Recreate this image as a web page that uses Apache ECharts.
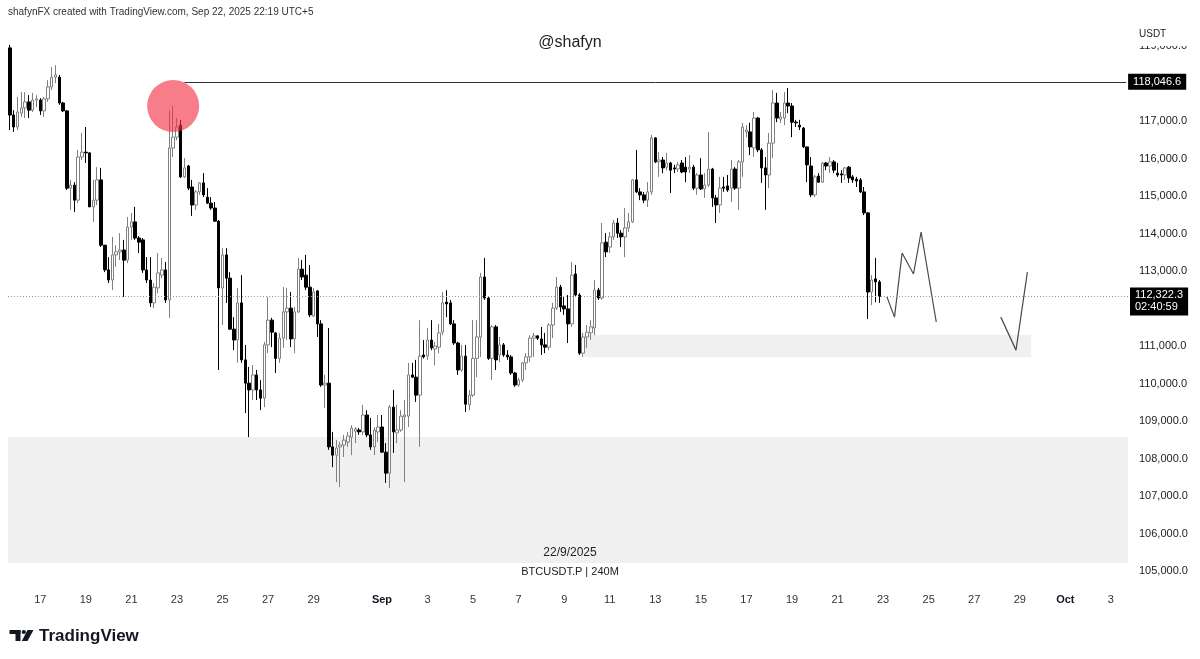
<!DOCTYPE html>
<html>
<head>
<meta charset="utf-8">
<title>BTCUSDT.P | 240M</title>
<script src="https://cdn.jsdelivr.net/npm/echarts@6/dist/echarts.min.js"></script>
<style>
  html, body { margin: 0; padding: 0; background: #fff; }
  #chart { width: 1200px; height: 659px; }
</style>
</head>
<body>
<div id="chart"></div>
<script>
// 4h bars, local time UTC+5, first bar opens Aug 15 17:00
const opens = [
  118950, 117160, 116840, 117210, 117350, 117510, 117290, 117560, 117560, 117270,
  117590, 117910, 118170, 118170, 117480, 117270, 115210, 115290, 114890, 116040,
  116170, 116150, 114710, 114890, 115430, 113690, 113030, 112760, 113430, 113510,
  113560, 113290, 114170, 114310, 113880, 113830, 113030, 112760, 112150, 112550,
  112890, 113030, 112230, 116280, 116570, 116890, 115510, 115800, 115240, 114760,
  115110, 115350, 114970, 114810, 114680, 114330, 112550, 113430, 112810, 111450,
  111160, 112150, 110630, 110010, 109830, 110230, 109830, 109610, 111030, 111690,
  111350, 110670, 111210, 111910, 112010, 111190, 111910, 113050, 112890, 112570,
  111800, 112470, 111590, 109960, 110010, 108310, 108090, 108310, 108360, 108440,
  108570, 108730, 108760, 108710, 109160, 108630, 108310, 108710, 108840, 108170,
  107610, 109370, 108680, 108760, 109110, 109130, 110230, 110170, 109690, 110760,
  110730, 111160, 110920, 110970, 111370, 112170, 112150, 111590, 111080, 110360,
  110730, 109430, 109690, 110670, 111240, 112840, 112280, 110670, 111510, 110760,
  111030, 110760, 110710, 110280, 109960, 110090, 110550, 110710, 111210, 111270,
  111190, 111030, 110970, 111560, 112010, 112570, 112070, 111990, 111590, 112920,
  112360, 110810, 111240, 111350, 111480, 112490, 112280, 113770, 113640, 113910,
  114280, 114010, 113910, 114150, 114310, 115430, 115110, 115030, 114890, 115110,
  116550, 115910, 115960, 115770, 115880, 115750, 115720, 115880, 115770, 115720,
  115770, 115210, 115560, 115190, 115290, 115720, 114950, 114760, 115240, 115270,
  115210, 115720, 115210, 115910, 116710, 116710, 116280, 117080, 116230, 115750,
  115560, 116410, 117480, 117050, 117080, 117480, 117400, 116970, 116890, 116810,
  116310, 115800, 115030, 115530, 115370, 115880, 115800, 115910, 115610, 115590,
  115560, 115770, 115510, 115450, 115430, 115110, 114550, 112440, 112790, 112710
];
const closes = [
  117160, 116840, 117240, 117350, 117510, 117290, 117560, 117590, 117270, 117590,
  117910, 118170, 118230, 117480, 117270, 115210, 115290, 114890, 116040, 116170,
  116150, 114710, 114890, 115430, 113690, 113030, 112760, 113430, 113510, 113560,
  113290, 114170, 114310, 113880, 113770, 113030, 112760, 112150, 112570, 112950,
  113030, 112230, 116280, 116570, 116840, 115510, 115750, 115210, 114760, 115110,
  115350, 115030, 114810, 114680, 114330, 112550, 113430, 112810, 111450, 111160,
  112150, 110630, 110010, 109830, 110230, 109830, 109610, 111030, 111690, 111370,
  110670, 111210, 111910, 112010, 111190, 111910, 113050, 112840, 112570, 111830,
  112440, 111590, 109960, 110010, 108310, 108090, 108280, 108360, 108490, 108600,
  108810, 108790, 108710, 109160, 108630, 108310, 108760, 108840, 108170, 107610,
  109370, 108710, 108760, 109130, 109160, 110230, 110170, 109690, 110730, 110710,
  111160, 110950, 111000, 111350, 112150, 112120, 111590, 111080, 110360, 110730,
  109450, 109690, 110670, 111240, 112840, 112280, 110670, 111510, 110630, 111030,
  110760, 110710, 110280, 109960, 110090, 110550, 110710, 111210, 111270, 111210,
  111030, 110970, 111560, 112010, 112570, 112040, 111990, 111590, 112890, 112360,
  110810, 111240, 111370, 111510, 112490, 112280, 113750, 113510, 113910, 114280,
  114010, 113910, 114150, 114310, 115430, 115110, 115030, 114890, 115110, 116550,
  115910, 115960, 115750, 115880, 115690, 115720, 115830, 115640, 115640, 115770,
  115210, 115560, 115190, 115290, 115720, 114950, 114760, 115210, 115210, 115160,
  115720, 115210, 115910, 116840, 116760, 116310, 117080, 116230, 115750, 115560,
  116410, 117480, 117080, 117110, 117480, 117400, 116970, 116950, 116840, 116310,
  115830, 115030, 115510, 115370, 115880, 115800, 115910, 115690, 115560, 115560,
  115750, 115480, 115430, 115400, 115110, 114550, 112440, 112760, 112710, 112322.3
];
const lows = [
  116760, 116710, 116760, 117110, 117080, 117080, 117240, 117370, 117160, 117110,
  117510, 117830, 118010, 117430, 117240, 115160, 114630, 114570, 114810, 115960,
  115880, 114710, 114310, 114760, 113640, 112970, 112680, 112490, 113110, 113290,
  112310, 113210, 113830, 113830, 113480, 112950, 112680, 112040, 112010, 112410,
  112810, 112150, 111750, 116040, 116490, 115480, 115480, 115160, 114470, 114630,
  115030, 114970, 114790, 114630, 114310, 110360, 111560, 112150, 111430, 110890,
  110550, 110550, 109210, 108570, 109560, 109560, 109290, 109370, 110810, 110970,
  110280, 110550, 110950, 111160, 110970, 110810, 111880, 112760, 112490, 111770,
  111770, 111240, 109910, 109350, 108230, 107770, 107370, 107240, 108040, 108310,
  108090, 108410, 108630, 108630, 108570, 108230, 108090, 108440, 108150, 107350,
  107210, 108150, 108410, 108710, 107370, 108840, 110150, 109510, 108310, 110670,
  110630, 110890, 110490, 110810, 111290, 111770, 111560, 111030, 110230, 110310,
  109240, 109290, 109640, 110170, 110710, 112230, 110630, 110090, 110360, 110570,
  110710, 110630, 110230, 109910, 109910, 110040, 110360, 110570, 110710, 111160,
  110760, 110810, 110890, 111210, 111960, 111910, 111830, 111080, 111510, 112310,
  110760, 110710, 110950, 111160, 111290, 112230, 112230, 113370, 113480, 113830,
  113880, 113640, 113370, 114040, 114280, 115080, 114890, 114810, 114710, 115030,
  115880, 115510, 115610, 115690, 115080, 115610, 115640, 115610, 115370, 115610,
  115160, 115030, 115160, 114950, 115240, 114710, 114280, 114550, 115110, 115110,
  114840, 115160, 114630, 115510, 116570, 116090, 116040, 116170, 115350, 114630,
  115210, 116010, 116970, 116950, 116890, 117210, 116570, 116840, 116760, 116280,
  115370, 114970, 114970, 115350, 115350, 115690, 115610, 115610, 115510, 115350,
  115430, 115350, 115350, 115240, 115080, 114490, 111720, 112090, 112170, 112150
];
const highs = [
  119030, 117290, 117640, 117770, 117770, 117690, 117750, 117690, 117610, 117640,
  118090, 118440, 118490, 118230, 117510, 117290, 115430, 115370, 116230, 116680,
  116840, 116170, 115430, 115770, 115750, 113690, 113370, 113910, 113690, 114010,
  113830, 114440, 114550, 114710, 113930, 113880, 113370, 113370, 112680, 113480,
  113350, 113240, 117270, 117400, 117080, 117030, 116010, 115830, 115430, 115160,
  115370, 115610, 115210, 114970, 114840, 114360, 113610, 113610, 112970, 111770,
  112550, 112890, 111030, 110440, 110490, 110360, 110090, 111110, 112310, 111750,
  111370, 111350, 112570, 112550, 112440, 112040, 113350, 113290, 113430, 113160,
  112550, 112490, 111690, 110230, 111480, 108710, 108490, 108440, 108630, 108710,
  108890, 108840, 108810, 109430, 109290, 109080, 108840, 109160, 109160, 108410,
  109430, 109830, 109430, 109290, 109560, 110550, 110550, 110630, 111690, 111160,
  111480, 111690, 111110, 111590, 112440, 112490, 112230, 111690, 111110, 111030,
  111030, 109830, 111690, 111690, 112950, 113350, 112310, 111560, 111560, 111240,
  111080, 110890, 110760, 110310, 110150, 110570, 110810, 111290, 111350, 111290,
  111510, 111350, 111610, 112150, 112840, 112630, 112310, 112360, 113240, 113160,
  112410, 111350, 111560, 111690, 112760, 112550, 114280, 114010, 114040, 114360,
  114410, 114090, 114680, 114550, 115450, 116230, 115210, 115110, 115370, 116630,
  116570, 116170, 116040, 116150, 115910, 115830, 115910, 115960, 116040, 116090,
  115830, 115610, 116010, 115610, 116710, 115750, 115030, 115510, 115510, 115560,
  115960, 115770, 115960, 116950, 116890, 116950, 117240, 117110, 116280, 116040,
  116680, 117830, 117750, 117240, 117770, 117880, 117480, 117030, 117030, 116840,
  116310, 116040, 115560, 115610, 115910, 115910, 116040, 115960, 115880, 115690,
  115770, 115800, 115560, 115510, 115480, 115240, 114570, 112890, 113350, 112760
];

const slotCount = 295;          // bars from Aug 15 17:00 to Oct 3 17:00
const firstBar = Date.UTC(2025, 7, 15, 17);
const monthNames = ['Jan', 'Feb', 'Mar', 'Apr', 'May', 'Jun', 'Jul', 'Aug', 'Sep', 'Oct', 'Nov', 'Dec'];

const highLevel = 118046.6;
const highLevelFrom = 46;
const lastPrice = 112322.3;
const countdown = '02:40:59';
const circleAt = [43, 117400];
const coveredTicks = [118000, 112000];   // hidden under the price boxes

const lowZone = [108573, 105213];
const retestZone = [111300, 110700];
const retestFrom = 151;
const retestTo = 269;

const pathAx = [231, 233, 235, 238, 240, 244];
const pathAy = [112310, 111770, 113480, 112920, 114040, 111640];
const pathBx = [261, 265, 268];
const pathBy = [111770, 110890, 112970];

const categories = [];
for (let k = 0; k < slotCount; k++) categories.push(String(firstBar + k * 4 * 3600 * 1000));

const candleData = opens.map((o, i) => [o, closes[i], lows[i], highs[i]]);

const font = 'Liberation Sans, Arial, sans-serif';
const fmtPrice = v => v.toLocaleString('en-US', { minimumFractionDigits: 1, maximumFractionDigits: 1 });

const chart = echarts.init(document.getElementById('chart'));

const option = {
  animation: false,
  backgroundColor: '#ffffff',
  textStyle: { fontFamily: font },
  grid: { left: 8, right: 72, top: 8.5, bottom: 50.5 },
  xAxis: {
    type: 'category',
    data: categories,
    offset: -20.5,
    axisLine: { show: false },
    axisTick: { show: false },
    splitLine: { show: false },
    axisLabel: {
      margin: 6,
      color: '#333',
      fontSize: 11,
      fontFamily: font,
      interval: (idx, value) => {
        const d = new Date(+value);
        const day = d.getUTCDate();
        return d.getUTCHours() === 1 && day % 2 === 1 && day !== 31;
      },
      formatter: value => {
        const d = new Date(+value);
        const day = d.getUTCDate();
        return day === 1 ? '{m|' + monthNames[d.getUTCMonth()] + '}' : String(day);
      },
      rich: { m: { fontWeight: 'bold', color: '#131722', fontSize: 11, fontFamily: font } }
    }
  },
  yAxis: {
    type: 'value',
    position: 'right',
    min: 104000,
    max: 120000,
    interval: 1000,
    scale: true,
    axisLine: { show: false },
    axisTick: { show: false },
    splitLine: { show: false },
    axisLabel: {
      margin: 11,
      color: '#222',
      fontSize: 11,
      fontFamily: font,
      formatter: v => (v < 105000 || v > 119000 || coveredTicks.includes(v)) ? '' : fmtPrice(v)
    }
  },
  series: [
    {
      type: 'candlestick',
      data: candleData,
      barWidth: 3,
      itemStyle: {
        color: '#ffffff',
        color0: '#000000',
        borderColor: '#808080',
        borderColor0: '#000000',
        borderWidth: 1
      },
      markArea: {
        silent: true,
        itemStyle: { color: '#f0f0f0' },
        data: [
          [{ yAxis: lowZone[0] }, { yAxis: lowZone[1] }],
          [{ xAxis: retestFrom, yAxis: retestZone[0] }, { xAxis: retestTo, yAxis: retestZone[1] }]
        ]
      },
      markLine: {
        silent: true,
        symbol: ['none', 'none'],
        data: [
          {
            yAxis: lastPrice,
            lineStyle: { color: '#9a9a9a', type: [1, 2], width: 1 },
            label: {
              show: true,
              position: 'end',
              distance: 2,
              offset: [0, 5],
              formatter: fmtPrice(lastPrice) + '\n' + countdown,
              color: '#fff',
              backgroundColor: '#000',
              fontSize: 11,
              lineHeight: 12,
              fontFamily: font,
              padding: [2, 5, 2, 5]
            }
          },
          [
            {
              coord: [highLevelFrom, highLevel],
              lineStyle: { color: '#333', type: 'solid', width: 1 },
              label: {
                show: true,
                position: 'end',
                distance: 2,
                formatter: fmtPrice(highLevel),
                color: '#fff',
                backgroundColor: '#000',
                fontSize: 11,
                fontFamily: font,
                padding: [3, 5, 2, 5]
              }
            },
            { coord: [slotCount - 1, highLevel] }
          ]
        ]
      },
      markPoint: {
        silent: true,
        data: [{
          coord: circleAt,
          symbol: 'circle',
          symbolSize: 52,
          itemStyle: { color: 'rgba(240, 45, 65, 0.62)' },
          label: { show: false }
        }]
      }
    },
    {
      type: 'line',
      data: pathAx.map((x, k) => [x, pathAy[k]]),
      showSymbol: false,
      silent: true,
      lineStyle: { color: '#4a4a4a', width: 1.2 }
    },
    {
      type: 'line',
      data: pathBx.map((x, k) => [x, pathBy[k]]),
      showSymbol: false,
      silent: true,
      lineStyle: { color: '#4a4a4a', width: 1.2 }
    }
  ],
  graphic: [
    { type: 'text', x: 8, y: 12, z: 100,
      style: { text: 'shafynFX created with TradingView.com, Sep 22, 2025 22:19 UTC+5', fill: '#333', font: '10px ' + font, textVerticalAlign: 'middle' } },
    { type: 'text', x: 570, y: 43, z: 100,
      style: { text: '@shafyn', fill: '#222', font: '16px ' + font, textAlign: 'center', textVerticalAlign: 'middle' } },
    { type: 'rect', z: 100, shape: { x: 1129, y: 20, width: 71, height: 26 }, style: { fill: '#fff' } },
    { type: 'text', x: 1139, y: 34, z: 101,
      style: { text: 'USDT', fill: '#222', font: '10px ' + font, textVerticalAlign: 'middle' } },
    { type: 'text', x: 570, y: 553, z: 100,
      style: { text: '22/9/2025', fill: '#222', font: '12px ' + font, textAlign: 'center', textVerticalAlign: 'middle' } },
    { type: 'text', x: 570, y: 572, z: 100,
      style: { text: 'BTCUSDT.P | 240M', fill: '#222', font: '11px ' + font, textAlign: 'center', textVerticalAlign: 'middle' } },
    { type: 'group', z: 100, children: [
      { type: 'rect', shape: { x: 9.5, y: 630, width: 11, height: 4 }, style: { fill: '#131722' } },
      { type: 'rect', shape: { x: 15.5, y: 630, width: 5, height: 11 }, style: { fill: '#131722' } },
      { type: 'circle', shape: { cx: 23.8, cy: 632, r: 2.1 }, style: { fill: '#131722' } },
      { type: 'polygon', shape: { points: [[27.5, 630], [33.5, 630], [27.5, 641], [21.8, 641]] }, style: { fill: '#131722' } }
    ] },
    { type: 'text', x: 39, y: 636, z: 100,
      style: { text: 'TradingView', fill: '#131722', font: 'bold 17px ' + font, textVerticalAlign: 'middle' } }
  ]
};

chart.setOption(option);
</script>
</body>
</html>
